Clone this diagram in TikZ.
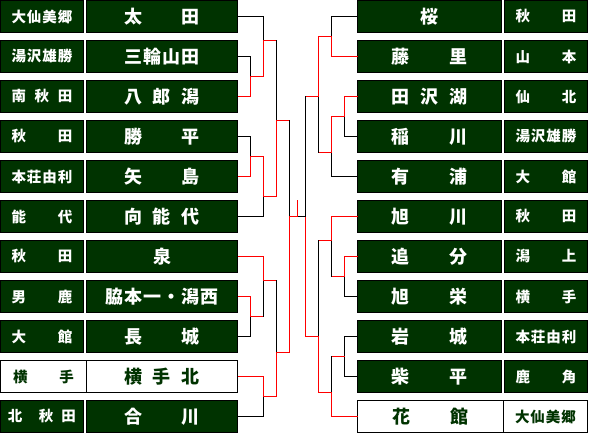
\documentclass[tikz,border=0pt]{standalone}
\usepackage{fontspec}
\newfontfamily\jp{Noto Sans CJK JP}
\definecolor{dg}{RGB}{0,51,0}
\newcommand\bj[1]{\makebox[76pt][s]{#1}}
\newcommand\sj[1]{\makebox[61pt][s]{#1}}
\newcommand\conn[4]{\draw[#3] (#1) -- (#1 -| #2); \draw[#4] (#1 -| #2) -- (#2);}
\tikzset{
  box/.style={draw=black, line width=1pt, fill=dg, text=white, inner sep=0pt, minimum height=32pt},
  wbox/.style={box, fill=white, text=dg},
  bigf/.style={font=\jp\bfseries\fontsize{18}{18}\selectfont},
  smallf/.style={font=\jp\bfseries\fontsize{14.5}{14.5}\selectfont},
  lbig/.style={bigf, minimum width=151pt},
  lsmall/.style={smallf, minimum width=83pt},
  rbig/.style={bigf, minimum width=144pt},
  rsmall/.style={smallf, minimum width=83pt},
  win/.style={red, line width=1pt, line cap=rect},
  lose/.style={black, line width=1pt, line cap=rect},
}
\begin{document}
\begin{tikzpicture}[x=1pt, y=-1pt]
\useasboundingbox (0,0) rectangle (591,435);
% left small boxes
\node[box,lsmall] (LS0) at (42,16.5) {\sj{大\hfill 仙\hfill 美\hfill 郷}};
\node[box,lsmall] (LS1) at (42,56.5) {\sj{湯\hfill 沢\hfill 雄\hfill 勝}};
\node[box,lsmall] (LS2) at (42,96.5) {\sj{南\hfill 秋\hfill 田}};
\node[box,lsmall] (LS3) at (42,136.5) {\sj{秋\hfill 田}};
\node[box,lsmall] (LS4) at (42,176.5) {\sj{本\hfill 荘\hfill 由\hfill 利}};
\node[box,lsmall] (LS5) at (42,216.5) {\sj{能\hfill 代}};
\node[box,lsmall] (LS6) at (42,256.5) {\sj{秋\hfill 田}};
\node[box,lsmall] (LS7) at (42,296.5) {\sj{男\hfill 鹿}};
\node[box,lsmall] (LS8) at (42,336.5) {\sj{大\hfill 館}};
\node[wbox,smallf,minimum width=86pt] (LS9) at (43.5,376.5) {\sj{横\hfill 手}};
\node[box,lsmall] (LS10) at (42,416.5) {\makebox[68pt][s]{北\hfill\hfill 秋\hfill 田}};
% left big boxes
\node[box,lbig] (L0) at (162,16.5) {\bj{太\hfill 田}};
\node[box,lbig] (L1) at (162,56.5) {\bj{三\hfill 輪\hfill 山\hfill 田}};
\node[box,lbig] (L2) at (162,96.5) {\bj{八\hfill 郎\hfill 潟}};
\node[box,lbig] (L3) at (162,136.5) {\bj{勝\hfill 平}};
\node[box,lbig] (L4) at (162,176.5) {\bj{矢\hfill 島}};
\node[box,lbig] (L5) at (162,216.5) {\bj{向\hfill 能\hfill 代}};
\node[box,lbig] (L6) at (162,256.5) {泉};
\node[box,lbig] (L7) at (162,296.5) {\makebox[114pt][s]{脇\hfill 本\hfill 一\hfill ・\hfill 潟\hfill 西}};
\node[box,lbig] (L8) at (162,336.5) {\bj{長\hfill 城}};
\node[wbox,lbig] (L9) at (162,376.5) {\bj{横\hfill 手\hfill 北}};
\node[box,lbig] (L10) at (162,416.5) {\bj{合\hfill 川}};
% right big boxes
\node[box,rbig] (R0) at (429.5,16.5) {桜};
\node[box,rbig] (R1) at (429.5,56.5) {\bj{藤\hfill 里}};
\node[box,rbig] (R2) at (429.5,96.5) {\bj{田\hfill 沢\hfill 湖}};
\node[box,rbig] (R3) at (429.5,136.5) {\bj{稲\hfill 川}};
\node[box,rbig] (R4) at (429.5,176.5) {\bj{有\hfill 浦}};
\node[box,rbig] (R5) at (429.5,216.5) {\bj{旭\hfill 川}};
\node[box,rbig] (R6) at (429.5,256.5) {\bj{追\hfill 分}};
\node[box,rbig] (R7) at (429.5,296.5) {\bj{旭\hfill 栄}};
\node[box,rbig] (R8) at (429.5,336.5) {\bj{岩\hfill 城}};
\node[box,rbig] (R9) at (429.5,376.5) {\bj{柴\hfill 平}};
\node[wbox,bigf,minimum width=146pt] (R10) at (430.5,416.5) {\bj{花\hfill 館}};
% right small boxes
\node[box,rsmall] (RS0) at (546,16.5) {\sj{秋\hfill 田}};
\node[box,rsmall] (RS1) at (546,56.5) {\sj{山\hfill 本}};
\node[box,rsmall] (RS2) at (546,96.5) {\sj{仙\hfill 北}};
\node[box,rsmall] (RS3) at (546,136.5) {\sj{湯\hfill 沢\hfill 雄\hfill 勝}};
\node[box,rsmall] (RS4) at (546,176.5) {\sj{大\hfill 館}};
\node[box,rsmall] (RS5) at (546,216.5) {\sj{秋\hfill 田}};
\node[box,rsmall] (RS6) at (546,256.5) {\sj{潟\hfill 上}};
\node[box,rsmall] (RS7) at (546,296.5) {\sj{横\hfill 手}};
\node[box,rsmall] (RS8) at (546,336.5) {\sj{本\hfill 荘\hfill 由\hfill 利}};
\node[box,rsmall] (RS9) at (546,376.5) {\sj{鹿\hfill 角}};
\node[wbox,smallf,minimum width=84pt] (RS10) at (545.5,416.5) {\sj{大\hfill 仙\hfill 美\hfill 郷}};
% junctions left
\coordinate (jA) at (250.5,76.5);
\coordinate (jB) at (250.5,156.5);
\coordinate (jC) at (250.5,316.5);
\coordinate (jD) at (263.5,40.5);
\coordinate (jE) at (263.5,196.5);
\coordinate (jF) at (263.5,280.5);
\coordinate (jG) at (263.5,396.5);
\coordinate (jH) at (276.5,120.5);
\coordinate (jI) at (276.5,352.5);
\coordinate (jJ) at (289.5,216.5);
% junctions right
\coordinate (kA) at (344.5,116.5);
\coordinate (kB) at (344.5,276.5);
\coordinate (kC) at (344.5,356.5);
\coordinate (kD) at (331.5,36.5);
\coordinate (kE) at (331.5,152.5);
\coordinate (kF) at (331.5,240.5);
\coordinate (kG) at (331.5,392.5);
\coordinate (kH) at (318.5,96.5);
\coordinate (kI) at (318.5,336.5);
\coordinate (kJ) at (305.5,216.5);
\coordinate (fin) at (297.5,216.5);
\coordinate (champ) at (297.5,200.5);
% left bracket: losers first
\conn{L1.east}{jA}{lose}{lose}
\conn{L3.east}{jB}{lose}{lose}
\conn{L8.east}{jC}{lose}{lose}
\conn{L0.east}{jD}{lose}{lose}
\conn{L5.east}{jE}{lose}{lose}
\conn{L10.east}{jG}{lose}{lose}
\conn{jC}{jF}{win}{lose}
\conn{jD}{jH}{win}{lose}
\conn{jF}{jI}{win}{lose}
\conn{jH}{jJ}{win}{lose}
\conn{L2.east}{jA}{win}{win}
\conn{L4.east}{jB}{win}{win}
\conn{L7.east}{jC}{win}{win}
\conn{jA}{jD}{win}{win}
\conn{jB}{jE}{win}{win}
\conn{L6.east}{jF}{win}{win}
\conn{L9.east}{jG}{win}{win}
\conn{jE}{jH}{win}{win}
\conn{jG}{jI}{win}{win}
\conn{jI}{jJ}{win}{win}
% right bracket
\conn{R3.west}{kA}{lose}{lose}
\conn{R7.west}{kB}{lose}{lose}
\conn{R8.west}{kC}{lose}{lose}
\conn{R9.west}{kC}{lose}{lose}
\conn{R0.west}{kD}{lose}{lose}
\conn{R4.west}{kE}{lose}{lose}
\conn{kB}{kF}{win}{lose}
\conn{kC}{kG}{win}{lose}
\conn{kE}{kH}{win}{lose}
\conn{kF}{kI}{win}{lose}
\conn{kH}{kJ}{win}{lose}
\conn{R2.west}{kA}{win}{win}
\conn{R6.west}{kB}{win}{win}
\conn{R1.west}{kD}{win}{win}
\conn{kA}{kE}{win}{win}
\conn{R5.west}{kF}{win}{win}
\conn{R10.west}{kG}{win}{win}
\conn{kD}{kH}{win}{win}
\conn{kG}{kI}{win}{win}
\conn{kI}{kJ}{win}{win}
% final
\draw[lose] (kJ) -- (fin);
\draw[win] (jJ) -- (fin);
\draw[win] (fin) -- (champ);
\end{tikzpicture}
\end{document}
